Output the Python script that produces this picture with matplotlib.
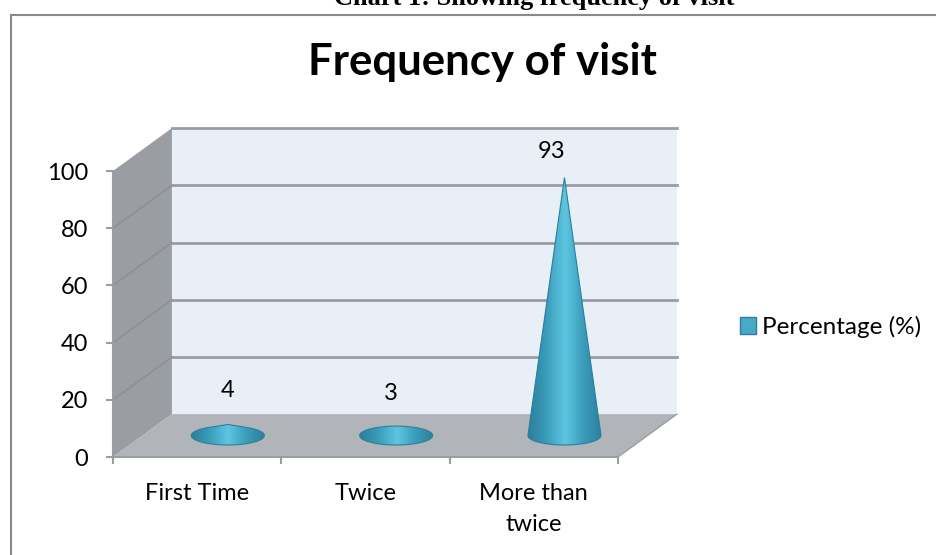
#!/usr/bin/env python3
"""Pseudo-3D cone chart of visit frequency, drawn on one flat axes."""

import numpy as np

import matplotlib

matplotlib.use("Agg")
import matplotlib.pyplot as plt
from matplotlib.colors import LinearSegmentedColormap
from matplotlib.patches import Patch, Polygon

categories = ["First Time", "Twice", "More than\ntwice"]
values = [4, 3, 93]
y_ticks = [0, 20, 40, 60, 80, 100]
title = "Frequency of visit"
caption = "Chart 1: Showing frequency of visit"
series_name = "Percentage (%)"

W, H = 937, 555
GREY = "#9a9da2"
FONT = "Lato"

plt.rcParams["font.family"] = [FONT, "DejaVu Sans"]

# wall depth in data units (59 px right, 43 px up on the picture)
DX = 0.35
DY = 15.0
CONE_RX = 0.217
CONE_RY = 3.3
# the cones sit mid-floor and come out a little short in the original's perspective
HEIGHT_SCALE = 0.97
cone_map = LinearSegmentedColormap.from_list(
    "cone", ["#2b7f9c", "#3a9dba", "#5fc6e2", "#3a9dba", "#2b7f9c"]
)


def cone_outline(cx, base, height):
    """Silhouette of a cone seen from above: base ellipse plus apex."""
    if height > CONE_RY:
        start = np.arcsin(CONE_RY / height)
        t = np.linspace(np.pi - start, 2 * np.pi + start, 80)
        xs = np.r_[cx + CONE_RX * np.cos(t), cx]
        ys = np.r_[base + CONE_RY * np.sin(t), base + height]
    else:
        t = np.linspace(0, 2 * np.pi, 80)
        xs = cx + CONE_RX * np.cos(t)
        ys = base + CONE_RY * np.sin(t)
    return np.column_stack([xs, ys])


fig = plt.figure(figsize=(W / 100, H / 100), dpi=100)
fig.patch.set_facecolor("white")

# outer chart border runs off the right and bottom edges; caption is cut at the top, as in the scan
fig.add_artist(
    plt.Rectangle(
        (11 / W, -0.01),
        1.0,
        1.01 - 15 / H,
        fill=False,
        edgecolor="#8a8a8a",
        linewidth=1.5,
        transform=fig.transFigure,
    )
)
fig.text(534 / W, 1 - 5 / H, caption, ha="center", va="baseline",
         fontsize=19, fontweight="bold", family="Liberation Serif")
fig.text(482 / W, 1 - 75 / H, title, ha="center", va="baseline",
         fontsize=31.5, fontweight="bold")

ax = fig.add_axes([113 / W, (H - 457) / H, 505 / W, 286 / H])
ax.patch.set_visible(False)
for name in ("top", "right"):
    ax.spines[name].set_visible(False)
for name in ("left", "bottom"):
    ax.spines[name].set_color(GREY)
    ax.spines[name].set_linewidth(1.5)
    ax.spines[name].set_zorder(3)

n = len(categories)
top = y_ticks[-1]

# back wall, side wall, floor
ax.add_patch(Polygon([(DX, DY), (n + DX, DY), (n + DX, top + DY), (DX, top + DY)],
                     facecolor="#e9eff7", edgecolor="none", clip_on=False, zorder=1))
ax.add_patch(Polygon([(0, 0), (DX, DY), (DX, top + DY), (0, top)],
                     facecolor="#9a9da2", edgecolor="none", clip_on=False, zorder=1))
ax.add_patch(Polygon([(0, 0), (n, 0), (n + DX, DY), (DX, DY)],
                     facecolor="#b1b4b9", edgecolor="none", clip_on=False, zorder=1))
ax.plot([n, n + DX], [0, DY], color=GREY, linewidth=1, clip_on=False, zorder=2)

for v in y_ticks[1:]:
    ax.plot([DX, n + DX], [v + DY, v + DY], color=GREY, linewidth=2,
            clip_on=False, zorder=2)
    if v < top:
        ax.plot([0, DX], [v, v + DY], color="#8b8e93", linewidth=1, clip_on=False, zorder=2)

# cones filled with a left-to-right gradient, clipped to the silhouette
label_offsets = [(0, 34), (-5, 34), (-13, 26)]
gradient = np.linspace(0, 1, 256).reshape(1, -1)
for i, v in enumerate(values):
    cx = i + 0.5 + DX * 0.52
    base = DY * 0.5
    height = v * HEIGHT_SCALE
    cone = Polygon(cone_outline(cx, base, height), facecolor="none",
                   edgecolor="#2b7f9c", linewidth=0.8, zorder=5)
    ax.add_patch(cone)
    im = ax.imshow(gradient, cmap=cone_map, aspect="auto", zorder=4,
                   extent=(cx - CONE_RX, cx + CONE_RX, base - CONE_RY, base + height))
    im.set_clip_path(cone)
    ax.annotate(str(v), (cx, base + height), xytext=label_offsets[i],
                textcoords="offset pixels", ha="center", va="center",
                fontsize=17, annotation_clip=False, zorder=6)

ax.set_xlim(0, n)
ax.set_ylim(0, top)
ax.set_yticks(y_ticks)
ax.set_xticks(range(n + 1))
ax.set_xticklabels([])
ax.set_xticks([i + 0.5 for i in range(n)], labels=categories, minor=True)
ax.tick_params(axis="both", which="major", color=GREY, width=1.5, length=5, labelsize=17)
ax.tick_params(axis="y", pad=13)
ax.tick_params(axis="x", which="minor", length=0, labelsize=17, pad=18.5)
for label in ax.get_xticklabels(minor=True):
    label.set_linespacing(1.6)

fig.legend(
    handles=[Patch(facecolor="#47abc8", edgecolor="#2b7f9c", label=series_name)],
    loc="center left",
    bbox_to_anchor=(740 / W, 1 - 327 / H),
    frameon=False,
    fontsize=17.5,
    handlelength=0.66,
    handleheight=0.66,
    handletextpad=0.25,
    borderpad=0,
    borderaxespad=0,
)

fig.savefig("out.png", dpi=100)
